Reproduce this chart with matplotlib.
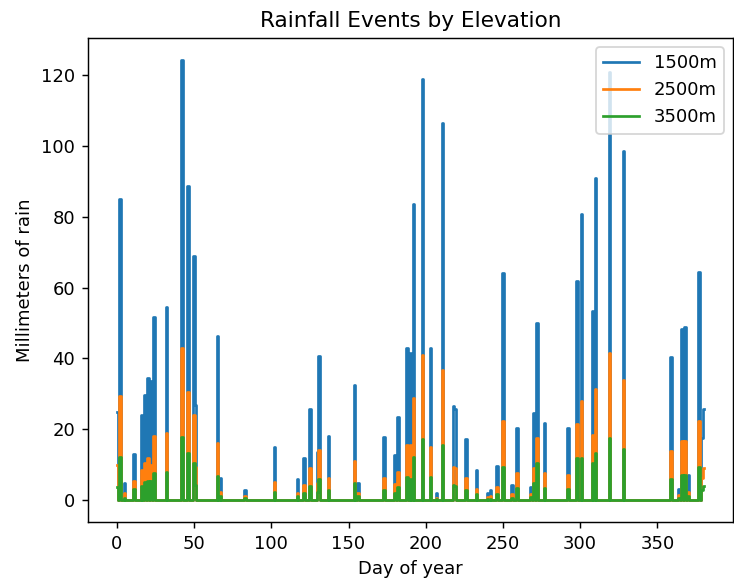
import numpy as np
import matplotlib
matplotlib.use("Agg")
import matplotlib.pyplot as plt

# Day indices that had rain (all other days are 0 mm)
n_days = 381
rain_days = [0, 2, 5, 11, 16, 18, 20, 22, 24, 32, 42, 46, 50, 51, 65, 67, 83,
             102, 117, 121, 125, 130, 131, 137, 154, 156, 173, 180, 182, 188,
             190, 192, 198, 203, 207, 211, 218, 219, 226, 233, 240, 242, 246,
             250, 256, 259, 268, 270, 272, 277, 292, 298, 301, 308, 310, 319,
             328, 359, 364, 366, 368, 370, 377, 379, 380]

mm_1500 = [25, 85, 4.7, 12.9, 24, 29.8, 34.6, 33.6, 51.6, 54.4, 124.3, 88.8,
           69, 26.8, 46.4, 6.1, 2.8, 15, 5.8, 12, 25.6, 13.7, 40.7, 18.1, 32.5,
           4.7, 17.9, 12.7, 23.4, 43, 41.5, 83.6, 119, 42.8, 2.1, 106.6, 26.6,
           25.6, 17.3, 8.5, 1.9, 2.8, 9.7, 64.2, 4.1, 20.4, 3.8, 24.7, 50.1,
           21.8, 20.3, 62, 80.8, 53.5, 91, 121, 98.6, 40.3, 3.2, 48.2, 48.8,
           7, 64.5, 17.6, 25.6]

mm_2500 = [10, 29.4, 1.9, 5.5, 8.5, 10.4, 12, 10, 18, 18.8, 42.8, 30.6,
           24, 9.4, 16, 2.4, 1.2, 5.2, 2.1, 4.2, 8.9, 4.7, 14.1, 6.3, 11.1,
           1.9, 6.1, 4.4, 8, 15.5, 15.5, 28.9, 41, 14.9, 0.7, 36.7, 9.2,
           9, 6.1, 3.1, 0.8, 1, 3.6, 22.3, 1.7, 7.5, 1.8, 9.1, 17.4,
           7.5, 7.1, 21.4, 28, 18.4, 31.4, 41.4, 33.9, 13.9, 1.3, 16.7, 16.7,
           2.4, 22.3, 6.1, 9.1]

mm_3500 = [3.8, 12.2, 0.6, 3.2, 4, 5, 5.5, 5.5, 7.6, 8, 17.9, 13.2,
           10.4, 4.2, 6.8, 1.2, 0.5, 2.4, 1, 2.1, 3.9, 2.3, 5.8, 2.8, 4.7,
           1, 2.8, 1.9, 3.6, 6.4, 6, 12.2, 17.2, 6.6, 0.3, 15.5, 4.1,
           4, 2.8, 1.6, 0.3, 0.4, 1.7, 9.4, 0.6, 3.5, 0.8, 4.7, 10.4,
           3.3, 3, 11.8, 12, 10.4, 13.2, 17.4, 14.3, 5.8, 0.5, 7, 7,
           1, 9.4, 2.8, 3.9]

labels = ["1500m", "2500m", "3500m"]

days = np.arange(n_days)
series = []
for vals in (mm_1500, mm_2500, mm_3500):
    arr = np.zeros(n_days)
    arr[rain_days] = vals
    series.append(arr)

DPI = 130
W, H = 734, 583
fig = plt.figure(figsize=(W / DPI, H / DPI), dpi=DPI)
left, right, top, bottom = 87.6, 733.0, 38.0, 522.0
ax = fig.add_axes([left / W, 1 - bottom / H, (right - left) / W, (bottom - top) / H])

for arr, lab in zip(series, labels):
    ax.plot(days, arr, label=lab, drawstyle="steps-mid")

ax.set_title("Rainfall Events by Elevation")
ax.set_xlabel("Day of year")
ax.set_ylabel("Millimeters of rain")
ax.legend(loc="upper right")

fig.savefig("out.png", dpi=DPI)
